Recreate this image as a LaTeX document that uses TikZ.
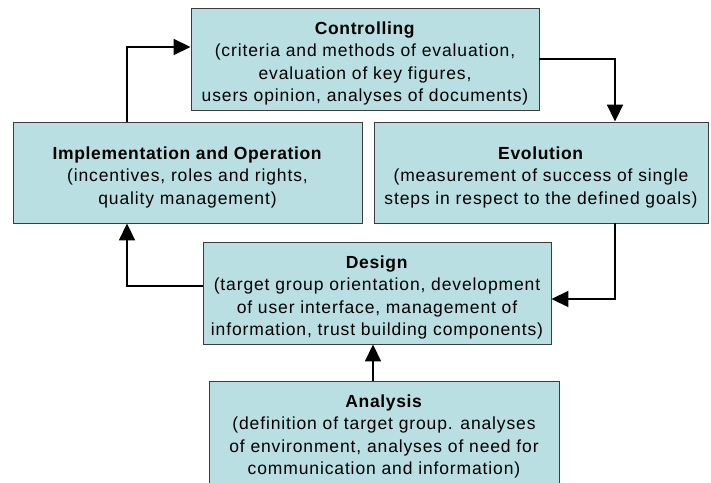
\documentclass[tikz,border=0pt]{standalone}
\usepackage{fontspec}
\setmainfont{Liberation Sans}[LetterSpace=5, BoldFeatures={LetterSpace=3.7}]
\usetikzlibrary{arrows.meta}
\definecolor{boxfill}{RGB}{186,223,226}
\definecolor{boxline}{RGB}{60,60,60}
% phase title with a little extra room above it
\newcommand{\phasetitle}[1]{\rule{0pt}{22pt}\textbf{#1}}
\begin{document}
\begin{tikzpicture}[x=1pt,y=-1pt,
  phase/.style={draw=boxline, line width=0.9pt, fill=boxfill, rectangle,
    inner sep=0pt, align=center,
    font=\fontsize{17.5}{22.4}\selectfont},
  flow/.style={line width=1.8pt, line cap=rect,
    -{Triangle[length=17pt,width=16pt]}}]
  \useasboundingbox (0,0) rectangle (711,482);
  \clip (0,0) rectangle (711,482);

  % phase boxes
  \node[phase, minimum width=348pt, minimum height=102pt] (ctrl) at (365,59)
    {\phasetitle{Controlling}\\(criteria and methods of evaluation,\\evaluation of key figures,\\users opinion, analyses of documents)};
  \node[phase, minimum width=349pt, minimum height=101pt] (impl) at (187.5,172.5)
    {\phasetitle{Implementation and Operation}\\(incentives, roles and rights,\\quality management)};
  \node[phase, minimum width=334pt, minimum height=101pt] (evol) at (541,172.5)
    {\phasetitle{Evolution}\\(measurement of success of single\\steps in respect to the defined goals)};
  \node[phase, minimum width=348pt, minimum height=102pt] (design) at (377,293)
    {\phasetitle{Design}\\(target group orientation, development\\of user interface, management of\\information, trust building components)};
  \node[phase, minimum width=350pt, minimum height=102pt] (analysis) at (384,432)
    {\phasetitle{Analysis}\\(definition of target group. analyses\\of environment, analyses of need for\\communication and information)};

  % routing points of the cycle
  \coordinate (up) at (127,47);
  \coordinate (right) at (615,59);
  \coordinate (back) at (615,299);
  \coordinate (left) at (127,286);

  % connectors
  \draw[flow] (impl.north -| up) |- (ctrl.west |- up);
  \draw[flow] (ctrl.east |- right) -| (evol.north -| right);
  \draw[flow] (evol.south -| back) |- (design.east |- back);
  \draw[flow] (design.west |- left) -| (impl.south -| left);
  \draw[flow] (analysis.north -| 373,0) -- (design.south -| 373,0);
\end{tikzpicture}
\end{document}
